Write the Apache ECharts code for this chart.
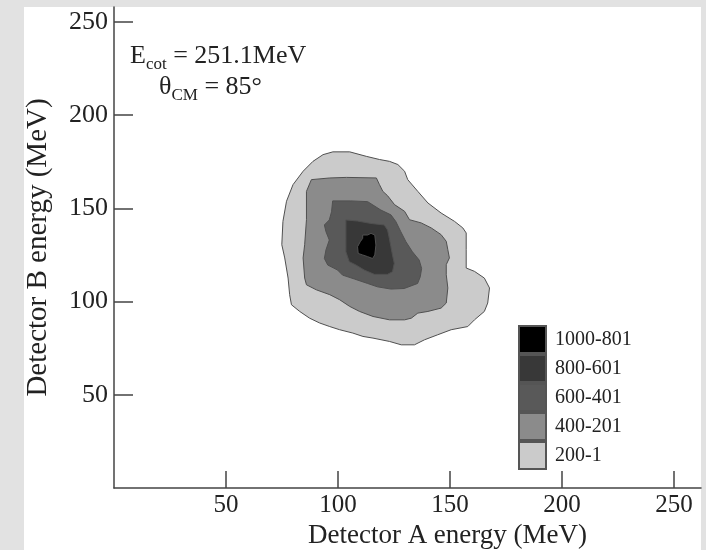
<!DOCTYPE html>
<html>
<head>
<meta charset="utf-8">
<script src="https://cdn.jsdelivr.net/npm/echarts@6/dist/echarts.min.js"></script>
<style>
  html, body { margin: 0; padding: 0; background: #e2e2e2; }
  #chart { width: 706px; height: 550px; }
</style>
</head>
<body>
<div id="chart"></div>
<script>
// Contornos (energia A, energia B) em MeV
const nivel200 = [
  [78.4, 103.7], [77.7, 112.6], [76.2, 123.4], [74.9, 130.5], [75.4, 143.0], [77.0, 153.8],
  [79.9, 162.7], [84.4, 169.9], [88.8, 175.2], [93.3, 178.8], [97.7, 180.3], [105.2, 180.3],
  [112.6, 177.9], [118.5, 176.2], [123.0, 175.2], [126.7, 173.5], [129.7, 169.9], [131.1, 165.4],
  [135.6, 159.1], [140.1, 152.9], [146.0, 147.5], [152.0, 143.0], [155.7, 139.5], [157.2, 136.8],
  [157.2, 127.8], [157.2, 118.0], [160.9, 116.2], [165.3, 112.6], [167.6, 107.3], [166.8, 99.2],
  [165.3, 94.7], [160.9, 90.2], [157.9, 86.6], [150.5, 84.9], [144.5, 82.2], [138.6, 79.5],
  [134.1, 76.8], [128.2, 76.8], [123.0, 78.6], [115.6, 80.4], [111.1, 81.3], [106.6, 83.1],
  [100.7, 84.9], [96.3, 86.6], [91.8, 88.5], [87.3, 91.1], [82.9, 94.7], [79.2, 98.3]
];
const nivel400 = [
  [85.9, 109.0], [85.1, 112.6], [84.4, 123.4], [85.1, 130.5], [85.9, 143.9], [85.9, 159.1],
  [88.1, 165.4], [96.3, 166.3], [103.7, 166.6], [117.1, 166.3], [118.5, 162.7], [120.0, 159.1],
  [122.1, 156.8], [125.2, 152.0], [129.7, 148.4], [131.9, 143.9], [137.1, 142.2], [141.6, 139.5],
  [146.0, 135.9], [148.3, 132.3], [149.0, 127.8], [149.7, 123.4], [148.3, 119.8], [148.3, 114.4],
  [149.0, 107.3], [148.3, 99.2], [146.0, 96.5], [140.1, 94.7], [135.6, 93.8], [132.7, 91.1],
  [129.7, 90.2], [123.0, 90.2], [115.6, 92.0], [109.6, 94.7], [105.2, 97.4], [100.7, 101.0],
  [96.3, 103.7], [90.3, 106.3]
];
const nivel600 = [
  [97.6, 154.0], [105.7, 154.0], [113.2, 153.6], [119.1, 149.1], [123.6, 146.5], [125.8, 142.9],
  [128.0, 137.5], [130.3, 132.1], [133.2, 126.7], [136.2, 122.3], [137.3, 117.8], [136.7, 113.3],
  [135.5, 109.7], [129.5, 107.0], [123.6, 106.7], [117.6, 107.9], [113.2, 109.7], [107.3, 112.1],
  [102.0, 114.2], [99.8, 116.9], [95.4, 119.6], [93.9, 123.1], [94.6, 127.7], [96.1, 133.0],
  [94.6, 137.5], [93.9, 141.1], [96.1, 143.8], [97.1, 148.2]
];
const nivel800 = [
  [103.5, 143.8], [108.7, 143.2], [114.7, 141.9], [120.6, 141.1], [122.1, 138.4], [122.9, 133.9],
  [123.6, 129.4], [124.3, 125.0], [125.1, 120.5], [124.3, 116.0], [122.1, 114.6], [116.2, 114.6],
  [111.7, 116.9], [108.0, 119.6], [105.0, 121.4], [103.5, 126.7], [103.5, 135.7]
];
const nivel1000 = [
  [111.0, 135.7], [113.2, 135.7], [114.7, 136.6], [116.4, 135.7], [116.9, 130.3], [116.4, 125.0],
  [115.4, 123.1], [113.2, 124.1], [111.0, 125.0], [109.0, 125.8], [108.7, 129.4], [109.9, 132.1],
  [111.0, 133.9]
];

const faixas = ['200-1', '400-201', '600-401', '800-601', '1000-801'];
const cores = ['#cbcbcb', '#8b8b8b', '#595959', '#383838', '#000000'];
const contornos = [nivel200, nivel400, nivel600, nivel800, nivel1000];
const ticksX = [50, 100, 150, 200, 250];
const ticksY = [50, 100, 150, 200, 250];

const fonte = 'Liberation Serif, Times New Roman, serif';
const chart = echarts.init(document.getElementById('chart'));

const series = contornos.map(function (pontos, i) {
    return {
        name: faixas[i],
        type: 'custom',
        coordinateSystem: 'cartesian2d',
        data: pontos,
        encode: { x: 0, y: 1 },
        silent: true,
        z: 2 + i,
        itemStyle: { color: cores[i], borderColor: '#555', borderWidth: 1 },
        renderItem: function (params, api) {
            if (params.dataIndex !== 0) return;
            const pts = pontos.map(function (p) { return api.coord(p); });
            return {
                type: 'polygon',
                shape: { points: pts },
                style: { fill: cores[i], stroke: '#505050', lineWidth: 1 }
            };
        }
    };
});

// Subscrito via rich text
const rich = {
    m: { fontFamily: fonte, fontSize: 26, fill: '#222', verticalAlign: 'middle' },
    s: { fontFamily: fonte, fontSize: 17, fill: '#222', verticalAlign: 'middle', padding: [18, 0, 0, 0] }
};

const option = {
    animation: false,
    backgroundColor: '#e2e2e2',
    grid: { left: 114, right: 5, top: 7, bottom: 62, outerBoundsMode: 'none' },
    legend: {
        data: faixas.slice().reverse(),
        orient: 'vertical',
        left: 518,
        top: 325,
        itemWidth: 27,
        itemHeight: 27,
        itemGap: 0,
        icon: 'rect',
        padding: 0,
        selectedMode: false,
        textStyle: { fontFamily: fonte, fontSize: 20, color: '#222', padding: [0, 0, 0, 4] }
    },
    graphic: [
        {
            type: 'rect',
            z: -10,
            silent: true,
            shape: { x: 24, y: 7, width: 677, height: 543 },
            style: { fill: '#ffffff' }
        },
        {
            type: 'text',
            left: 130,
            top: 43,
            style: { text: '{m|E}{s|cot}{m| = 251.1MeV}', rich: rich }
        },
        {
            type: 'text',
            left: 159,
            top: 74,
            style: { text: '{m|θ}{s|CM}{m| = 85°}', rich: rich }
        }
    ],
    xAxis: {
        type: 'value',
        min: 0,
        max: 262,
        name: 'Detector A energy (MeV)',
        nameLocation: 'middle',
        nameGap: 24,
        nameTextStyle: { fontFamily: fonte, fontSize: 27, color: '#222', padding: [0, 0, 0, 80] },
        axisLine: { lineStyle: { color: '#444', width: 1.5 } },
        axisTick: { inside: true, length: 17, customValues: ticksX, lineStyle: { color: '#444', width: 1.5 } },
        axisLabel: { customValues: ticksX, margin: 5, fontFamily: fonte, fontSize: 25, color: '#222' },
        splitLine: { show: false }
    },
    yAxis: {
        type: 'value',
        min: 0,
        max: 258,
        name: 'Detector B energy (MeV)',
        nameLocation: 'middle',
        nameGap: 61,
        nameTextStyle: { fontFamily: fonte, fontSize: 29, color: '#222' },
        axisLine: { show: true, lineStyle: { color: '#444', width: 1.5 } },
        axisTick: { show: true, inside: true, length: 19, customValues: ticksY, lineStyle: { color: '#444', width: 1.5 } },
        axisLabel: { customValues: ticksY, margin: 6, fontFamily: fonte, fontSize: 26, color: '#222' },
        splitLine: { show: false }
    },
    series: series
};

chart.setOption(option);
</script>
</body>
</html>
